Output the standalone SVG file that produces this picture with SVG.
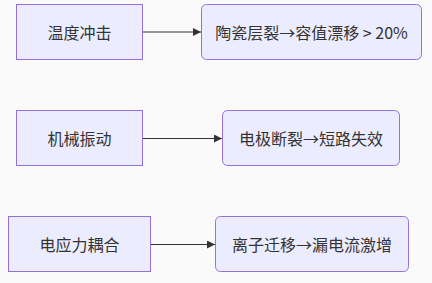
<svg xmlns="http://www.w3.org/2000/svg" width="432" height="283" viewBox="0 0 432 283">
<style>
.bg{fill:#fafafa}
.n rect{fill:#ececff;stroke:#9370db;stroke-width:1}
.n text{font-family:"Noto Sans CJK SC","Noto Sans",sans-serif;font-size:16px;fill:#333;text-anchor:middle;dominant-baseline:central}
.e{stroke:#333;stroke-width:1.2;fill:none}
</style>
<defs>
<marker id="ah" viewBox="0 0 10 10" refX="10" refY="5" markerWidth="8" markerHeight="8" markerUnits="userSpaceOnUse" orient="auto">
<path d="M0,0L10,5L0,10z" fill="#333"/>
</marker>
</defs>
<rect class="bg" width="432" height="283"/>
<g id="connectors">
<path class="e" d="M143,32H201" marker-end="url(#ah)"/>
<path class="e" d="M143,138.5H222" marker-end="url(#ah)"/>
<path class="e" d="M151,244.5H215" marker-end="url(#ah)"/>
</g>
<g id="n1" class="n"><rect x="16.5" y="4.5" width="126" height="55"/><text x="79.5" y="32">温度冲击</text></g>
<g id="n2" class="n"><rect x="201.5" y="4.5" width="220" height="55" rx="5"/><text x="311.5" y="32">陶瓷层裂→容值漂移 &gt; 20%</text></g>
<g id="n3" class="n"><rect x="16.5" y="110.5" width="126" height="55"/><text x="79.5" y="138">机械振动</text></g>
<g id="n4" class="n"><rect x="222.5" y="110.5" width="177" height="55" rx="5"/><text x="311" y="138">电极断裂→短路失效</text></g>
<g id="n5" class="n"><rect x="8.5" y="216.5" width="142" height="55"/><text x="79.5" y="244">电应力耦合</text></g>
<g id="n6" class="n"><rect x="215.5" y="216.5" width="193" height="55" rx="5"/><text x="312" y="244">离子迁移→漏电流激增</text></g>
</svg>
